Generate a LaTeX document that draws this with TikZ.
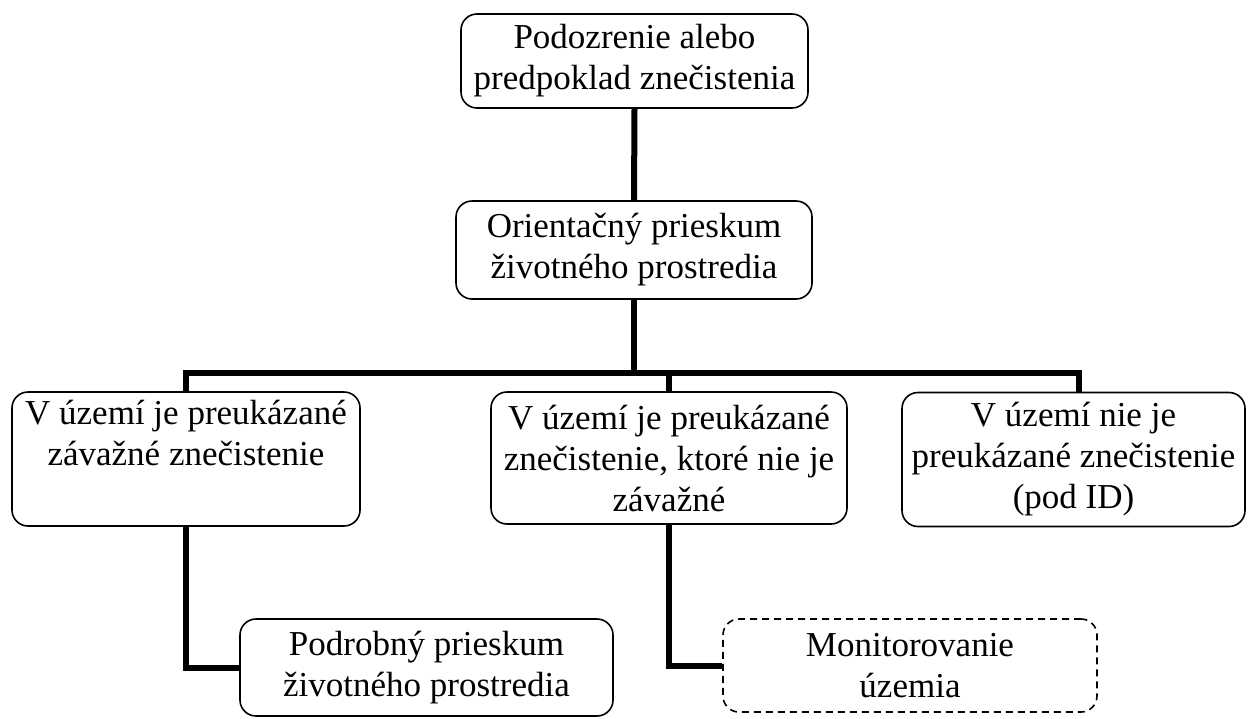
\documentclass[tikz,border=0pt]{standalone}
\usepackage{fontspec}
\setmainfont{Liberation Serif}
\begin{document}
\begin{tikzpicture}[x=1pt,y=-1pt,
  box/.style={draw, line width=1.6pt, rounded corners=16pt, align=center, inner sep=0pt,
    font=\fontsize{35}{41}\selectfont},
  dbox/.style={box, dashed, dash pattern=on 7pt off 5pt},
  conn/.style={line width=6pt}]
\useasboundingbox (0,0) rectangle (1248,718);
\node[box, minimum width=347pt, minimum height=94pt] (top) at (634.5,61) {Podozrenie alebo\\predpoklad znečistenia};
\node[box, minimum width=356pt, minimum height=98pt] (ori) at (634,250) {Orientačný prieskum\\životného prostredia};
\node[box, minimum width=348pt, minimum height=134pt] (left) at (186,459) {V území je preukázané\\závažné znečistenie\\\strut};
\node[box, minimum width=356pt, minimum height=132pt] (mid) at (669,458) {V území je preukázané\\znečistenie, ktoré nie je\\závažné};
\node[box, minimum width=343pt, minimum height=134pt] (right) at (1073.5,459.5) {V území nie je\\preukázané znečistenie\\(pod ID)};
\node[box, minimum width=373pt, minimum height=97pt] (pod) at (426.5,667.5) {Podrobný prieskum\\životného prostredia};
\node[dbox, minimum width=374pt, minimum height=93pt] (mon) at (910,665.5) {Monitorovanie\\územia};

\coordinate (j) at (ori.south |- 0,373);
\coordinate (jl) at (186,373);
\coordinate (jm) at (669,373);
\coordinate (jr) at (1079,373);
\draw[conn] (top.south) -- (ori.north);
\draw[conn] (ori.south) -- (j);
\draw[conn, line cap=rect] (jl) -- (jr);
\draw[conn] (jl) -- (left.north);
\draw[conn] (jm) -- (mid.north);
\draw[conn] (jr) -- (right.north -| jr);
\draw[conn] (left.south) |- (pod.west);
\draw[conn] (mid.south) |- (mon.west);
\end{tikzpicture}
\end{document}
